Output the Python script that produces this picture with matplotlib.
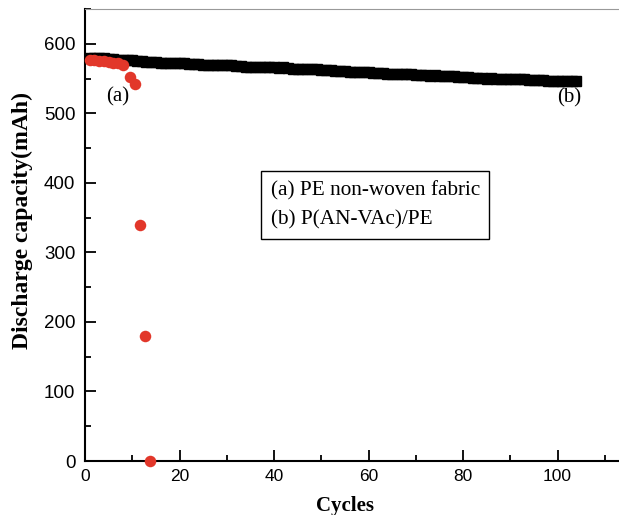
"""
Discharge capacity vs. cycle number for two separators.
(a) PE non-woven fabric fails after ~13 cycles,
(b) P(AN-VAc)/PE keeps ~550 mAh over 100+ cycles.
"""
import matplotlib
matplotlib.use("Agg")
import matplotlib.pyplot as plt
from matplotlib.ticker import MultipleLocator

# --- data ---
cycles_b = list(range(1, 105))
cap_b = [
    580, 580, 579, 579, 578, 578, 577, 577, 576, 576,
    575, 575, 574, 574, 574, 573, 573, 573, 572, 572,
    572, 571, 571, 571, 570, 570, 570, 570, 569, 569,
    569, 568, 568, 567, 567, 567, 566, 566, 566, 566,
    565, 566, 565, 564, 564, 564, 563, 563, 563, 562,
    562, 562, 561, 561, 561, 560, 560, 560, 559, 559,
    558, 558, 558, 557, 557, 557, 556, 556, 556, 555,
    555, 555, 554, 555, 554, 553, 553, 553, 552, 552,
    552, 551, 551, 551, 550, 551, 550, 550, 550, 549,
    549, 549, 549, 548, 548, 548, 548, 547, 547, 547,
    547, 547, 546, 546,
]

cycles_a = [1, 2, 3, 4, 5, 6, 7, 8, 9.5, 10.5, 11.6, 12.7, 13.8]
cap_a = [576, 576, 575, 575, 574, 573, 572, 570, 552, 542, 340, 180, 0]

labels = ["(a) PE non-woven fabric", "(b) P(AN-VAc)/PE"]

SERIF = "Liberation Serif"
SANS = "Liberation Sans"

fig = plt.figure(figsize=(6.19, 5.15), dpi=100)
ax = fig.add_axes([85 / 619, 1 - 461 / 515, 534 / 619, 452 / 515])

hb, = ax.plot(cycles_b, cap_b, "s", color="black", ms=7.2, mec="black",
              clip_on=False, zorder=2)
ha, = ax.plot(cycles_a, cap_a, "o", color="#e2372a", ms=8.3, mec="none",
              clip_on=False, zorder=3)

ax.set_xlim(0, 113)
ax.set_ylim(0, 650)
ax.xaxis.set_major_locator(MultipleLocator(20))
ax.xaxis.set_minor_locator(MultipleLocator(10))
ax.yaxis.set_major_locator(MultipleLocator(100))
ax.yaxis.set_minor_locator(MultipleLocator(50))
ax.set_yticks(range(0, 601, 100))

ax.tick_params(which="both", direction="in", top=False, right=False,
               width=1.3, pad=6)
ax.tick_params(which="major", length=8)
ax.tick_params(which="minor", length=4)
ax.tick_params(axis="x", labelsize=12.5)
ax.tick_params(axis="y", labelsize=13.5, pad=7)
for t in ax.get_xticklabels() + ax.get_yticklabels():
    t.set_fontfamily(SANS)

for s in ("left", "bottom"):
    ax.spines[s].set_linewidth(1.5)
ax.spines["right"].set_visible(False)
ax.spines["top"].set_linewidth(0.8)
ax.spines["top"].set_color("#999999")

ax.set_xlabel("Cycles", fontfamily=SERIF, fontweight="bold", fontsize=15)
ax.xaxis.set_label_coords(0.486, -0.078)
ax.set_ylabel("Discharge capacity(mAh)", fontfamily=SERIF, fontweight="bold",
              fontsize=17)
ax.yaxis.set_label_coords(-0.097, 0.531)

ax.text(7, 524, "(a)", fontfamily=SERIF, fontsize=15, ha="center", va="center")
ax.text(102.5, 522, "(b)", fontfamily=SERIF, fontsize=15, ha="center",
        va="center")

leg = ax.legend([ha, hb], labels, loc="upper left",
                bbox_to_anchor=((261 - 85) / 534, (461 - 171) / 452),
                borderaxespad=0, fancybox=False, edgecolor="black",
                framealpha=1, handlelength=0, handletextpad=0,
                borderpad=0.45, labelspacing=0.45,
                prop={"family": SERIF, "size": 15.3})
leg.get_frame().set_linewidth(1.0)
for h in leg.legend_handles:
    h.set_visible(False)

plt.savefig("out.png", dpi=100)
plt.close()
